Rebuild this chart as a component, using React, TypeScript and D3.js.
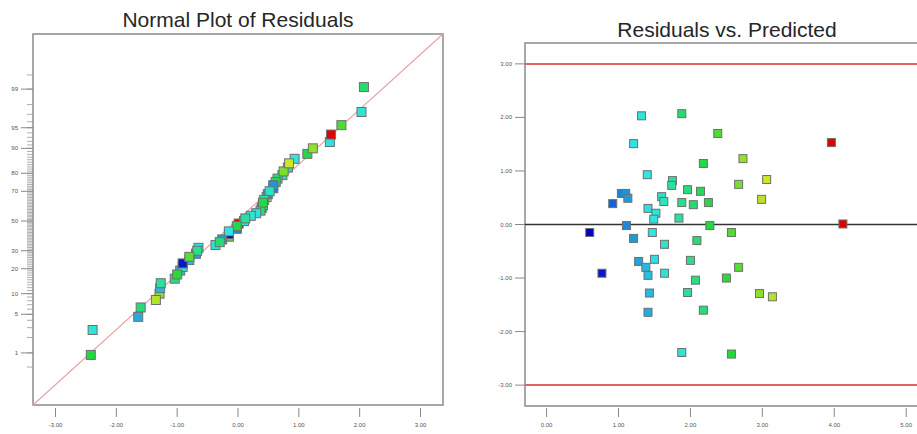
import React from 'react';
import * as d3 from 'd3';

// predicted values and externally studentized residuals, one entry per run
const predicted = [
  4.12, 1.32, 1.88, 2.38, 1.21, 2.18, 2.73, 1.40, 1.75, 1.74, 1.96, 2.14, 2.67, 2.99, 3.06,
  1.04, 1.10, 1.13, 0.92, 1.60, 1.63, 1.88, 2.04, 2.25, 1.41, 1.52, 1.49, 1.84, 1.11,
  2.27, 2.57, 0.60, 1.21, 1.47, 1.64, 2.09, 1.28, 1.50, 1.38, 1.41, 1.64, 0.77, 2.00,
  2.07, 2.67, 2.50, 2.96, 3.14, 1.43, 1.96, 1.41, 2.18, 1.88, 2.57, 3.96,
];
const residuals = [
  0.01, 2.03, 2.07, 1.70, 1.51, 1.14, 1.23, 0.93, 0.82, 0.73, 0.65, 0.62, 0.75, 0.47, 0.84,
  0.58, 0.58, 0.49, 0.39, 0.52, 0.43, 0.41, 0.37, 0.41, 0.30, 0.21, 0.10, 0.12, -0.02,
  -0.02, -0.15, -0.15, -0.26, -0.15, -0.37, -0.30, -0.69, -0.65, -0.80, -0.95, -0.91, -0.91, -0.67,
  -1.04, -0.80, -1.00, -1.29, -1.35, -1.28, -1.27, -1.64, -1.60, -2.39, -2.42, 1.53,
];
// actual response, used for point colour
const response = [
  4.12, 1.52, 2.09, 2.55, 1.45, 2.29, 2.85, 1.49, 1.83, 1.81, 2.03, 2.20, 2.75, 3.04, 3.14,
  1.10, 1.16, 1.18, 0.96, 1.65, 1.67, 1.92, 2.08, 2.29, 1.44, 1.54, 1.50, 1.85, 1.11,
  2.27, 2.56, 0.585, 1.18, 1.46, 1.60, 2.06, 1.21, 1.44, 1.30, 1.32, 1.55, 0.68, 1.93,
  1.97, 2.59, 2.40, 2.83, 3.01, 1.30, 1.83, 1.25, 2.02, 1.55, 2.33, 4.11,
];

const probTicks = [1, 5, 10, 20, 30, 50, 70, 80, 90, 95, 99];
const probMinor = [0.5, ...d3.range(1, 100), 99.5];
const residTicks = [-3, -2, -1, 0, 1, 2, 3];
const predTicks = [0, 1, 2, 3, 4, 5];
const limits = [-3, 3];

// inverse normal CDF (Acklam)
function qnorm(p: number): number {
  const a = [-39.6968302866538, 220.946098424521, -275.928510446969, 138.357751867269, -30.6647980661472, 2.50662827745924];
  const b = [-54.4760987982241, 161.585836858041, -155.698979859887, 66.8013118877197, -13.2806815528857];
  const c = [-0.00778489400243029, -0.322396458041136, -2.40075827716184, -2.54973253934373, 4.37466414146497, 2.93816398269878];
  const d = [0.00778469570904146, 0.32246712907004, 2.445134137143, 3.75440866190742];
  const pl = 0.02425;
  if (p < pl) {
    const q = Math.sqrt(-2 * Math.log(p));
    return (((((c[0] * q + c[1]) * q + c[2]) * q + c[3]) * q + c[4]) * q + c[5]) /
      ((((d[0] * q + d[1]) * q + d[2]) * q + d[3]) * q + 1);
  }
  if (p > 1 - pl) {
    const q = Math.sqrt(-2 * Math.log(1 - p));
    return -(((((c[0] * q + c[1]) * q + c[2]) * q + c[3]) * q + c[4]) * q + c[5]) /
      ((((d[0] * q + d[1]) * q + d[2]) * q + d[3]) * q + 1);
  }
  const q = p - 0.5;
  const r = q * q;
  return (((((a[0] * r + a[1]) * r + a[2]) * r + a[3]) * r + a[4]) * r + a[5]) * q /
    (((((b[0] * r + b[1]) * r + b[2]) * r + b[3]) * r + b[4]) * r + 1);
}

const FONT = '"Liberation Sans", Arial, sans-serif';
const AXIS_GRAY = '#8a8a8a';
const LABEL = '#555';

export default function App() {
  const color = d3.scaleSequential(d3.piecewise(d3.interpolateRgb, ['#0000c8', '#2ee6e6', '#22d83a', '#e6e622', '#e00000']))
    .domain(d3.extent(response) as [number, number]);

  // ---- left: normal plot
  const L = { x0: 33, x1: 443, y0: 34, y1: 405 };
  const xL = d3.scaleLinear().domain([-3.37, 3.37]).range([L.x0, L.x1]);
  const yL = d3.scaleLinear().domain([-3.245, 3.298]).range([L.y1, L.y0]);
  const n = residuals.length;
  const order = d3.range(n).sort((i, j) => residuals[i] - residuals[j]);
  const zOf: number[] = new Array(n);
  order.forEach((idx, rank) => { zOf[idx] = qnorm((rank + 0.5) / n); });

  // ---- right: residuals vs predicted
  const R = { x0: 525, x1: 940, y0: 43, y1: 406 };
  const xR = d3.scaleLinear().domain([-0.3, 5.47]).range([R.x0, R.x1]);
  const yR = d3.scaleLinear().domain([-3.39, 3.39]).range([R.y1, R.y0]);

  const sL = 9;
  const sR = 8;

  return (
    <svg width={917} height={434} style={{ position: 'absolute', left: 0, top: 0, background: '#fff' }} fontFamily={FONT}>
      {/* titles */}
      <text x={238} y={27} textAnchor="middle" fontSize={21} fill="#262626">Normal Plot of Residuals</text>
      <text x={727} y={37} textAnchor="middle" fontSize={21} fill="#262626">Residuals vs. Predicted</text>

      {/* left frame */}
      <rect x={L.x0} y={L.y0} width={L.x1 - L.x0} height={L.y1 - L.y0} fill="#fff" stroke={AXIS_GRAY} strokeWidth={1.5} />
      {probMinor.map(p => (
        <line key={'m' + p} x1={L.x0 - 6} x2={L.x0} y1={yL(qnorm(p / 100))} y2={yL(qnorm(p / 100))} stroke="#999" strokeWidth={0.8} />
      ))}
      {probTicks.map(p => (
        <g key={'p' + p}>
          <line x1={L.x0 - 12} x2={L.x0} y1={yL(qnorm(p / 100))} y2={yL(qnorm(p / 100))} stroke="#888" strokeWidth={1} />
          <text x={L.x0 - 15} y={yL(qnorm(p / 100)) + 2} textAnchor="end" fontSize={6} fill={LABEL}>{p}</text>
        </g>
      ))}
      {residTicks.map(t => (
        <g key={'lx' + t}>
          <line x1={xL(t)} x2={xL(t)} y1={L.y1 + 3} y2={L.y1 + 12} stroke="#888" strokeWidth={1} />
          <text x={xL(t)} y={L.y1 + 22} textAnchor="middle" fontSize={6} fill={LABEL}>{t.toFixed(2)}</text>
        </g>
      ))}
      <line x1={xL(-3.37)} y1={yL(-3.245)} x2={xL(3.37)} y2={yL(3.298)} stroke="#e8a4a4" strokeWidth={1.2} />
      {residuals.map((r, i) => (
        <rect key={'n' + i} x={xL(r) - sL / 2} y={yL(zOf[i]) - sL / 2} width={sL} height={sL}
          fill={color(response[i])} stroke="#6f6f6f" strokeWidth={1} />
      ))}

      {/* right frame */}
      <rect x={R.x0} y={R.y0} width={R.x1 - R.x0} height={R.y1 - R.y0} fill="#fff" stroke={AXIS_GRAY} strokeWidth={1.5} />
      {residTicks.map(t => (
        <g key={'ry' + t}>
          <line x1={R.x0 - 10} x2={R.x0} y1={yR(t)} y2={yR(t)} stroke="#888" strokeWidth={1} />
          <text x={R.x0 - 13} y={yR(t) + 2} textAnchor="end" fontSize={6} fill={LABEL}>{t.toFixed(2)}</text>
        </g>
      ))}
      {predTicks.map(t => (
        <g key={'rx' + t}>
          <line x1={xR(t)} x2={xR(t)} y1={R.y1 + 2} y2={R.y1 + 11} stroke="#888" strokeWidth={1} />
          <text x={xR(t)} y={R.y1 + 21} textAnchor="middle" fontSize={6} fill={LABEL}>{t.toFixed(2)}</text>
        </g>
      ))}
      {limits.map(v => (
        <line key={'lim' + v} x1={R.x0} x2={R.x1} y1={yR(v)} y2={yR(v)} stroke="#e06464" strokeWidth={2} />
      ))}
      <line x1={R.x0} x2={R.x1} y1={yR(0)} y2={yR(0)} stroke="#333" strokeWidth={1.5} />
      {predicted.map((p, i) => (
        <rect key={'r' + i} x={xR(p) - sR / 2} y={yR(residuals[i]) - sR / 2} width={sR} height={sR}
          fill={color(response[i])} stroke="#6f6f6f" strokeWidth={1} />
      ))}
    </svg>
  );
}
